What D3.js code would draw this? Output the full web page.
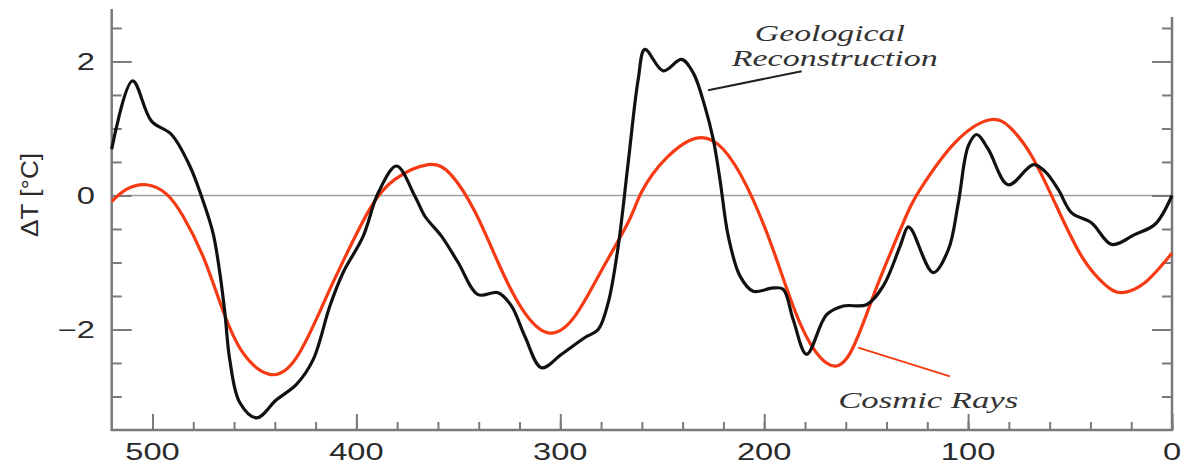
<!DOCTYPE html>
<html>
<head>
<meta charset="utf-8">
<script src="https://cdn.jsdelivr.net/npm/d3@7"></script>
<style>
  body { margin: 0; background: #fff; }
  svg { display: block; }
</style>
</head>
<body>
<div id="chart"></div>
<script>
// Geological reconstruction (age in Myr, deltaT)
var geoAge  = [520, 509.8, 500.5, 490.7, 481.7, 476, 470.3, 467, 464.5, 462.1, 457.2, 449, 439.2, 429.4, 421.2, 413, 406.5, 396.7, 389.3, 380.3, 371.3, 366.4, 358.2, 350.1, 340.3, 330.5, 323.9, 317.4, 309.2, 299.4, 287.9, 281.4, 276.5, 271.6, 266.7, 261.8, 258.5, 249.5, 240.5, 234.8, 229.1, 225, 221.7, 217.6, 211.9, 205.4, 195.6, 190.7, 185.8, 179.2, 169.4, 161.2, 149.8, 141.6, 133.4, 129.5, 127.7, 117.1, 109.7, 104.8, 99.9, 95.8, 90.1, 80.3, 68, 62.3, 55.8, 49.2, 39.4, 29.6, 18.1, 8.3, 0];
var geoTemp = [0.69, 1.71, 1.11, 0.91, 0.44, -0.01, -0.56, -1.15, -1.75, -2.45, -3.09, -3.32, -3.05, -2.82, -2.45, -1.65, -1.15, -0.61, 0.04, 0.44, -0.01, -0.31, -0.61, -1.0, -1.48, -1.45, -1.65, -2.1, -2.57, -2.37, -2.12, -2.0, -1.6, -0.76, 0.49, 1.73, 2.18, 1.86, 2.03, 1.83, 1.33, 0.84, 0.24, -0.61, -1.2, -1.43, -1.38, -1.4, -1.85, -2.37, -1.78, -1.65, -1.63, -1.35, -0.76, -0.47, -0.51, -1.15, -0.81, -0.11, 0.74, 0.91, 0.69, 0.16, 0.46, 0.36, 0.09, -0.26, -0.41, -0.73, -0.58, -0.43, 0.0];

// Cosmic ray based reconstruction
var crAge  = [520, 512.8, 502.9, 493.1, 485, 475.2, 465.4, 455.6, 442.5, 429.4, 416.3, 406.5, 393.4, 381.1, 364.8, 353.3, 341.9, 330.5, 319, 305.9, 292.8, 279.8, 266.7, 260, 247.9, 232.4, 220.1, 208.6, 195.6, 182.5, 169.4, 158, 146.5, 136.7, 128.5, 121.2, 106.4, 89.3, 78.6, 68.8, 57.4, 44.3, 32.9, 24.7, 13.2, 0];
var crTemp = [-0.09, 0.09, 0.16, 0.02, -0.31, -0.91, -1.72, -2.35, -2.67, -2.42, -1.62, -0.98, -0.2, 0.24, 0.46, 0.3, -0.24, -1.0, -1.68, -2.05, -1.8, -1.12, -0.4, 0.06, 0.56, 0.86, 0.69, 0.14, -0.81, -1.9, -2.5, -2.36, -1.5, -0.76, -0.18, 0.2, 0.79, 1.13, 0.99, 0.59, -0.11, -0.91, -1.33, -1.45, -1.3, -0.86];

var xMajorTicks = [500, 400, 300, 200, 100, 0];
var xMinorTicks = d3.range(0, 520, 20);
var yMajorTicks = [-2, 0, 2];
var yMinorTicks = [-3, -2.5, -1.5, -1, -0.5, 0.5, 1, 1.5, 2.5];
var yTickLabels = ["\u22122", "0", "2"];

var width = 1188;
var height = 468;
var axisColor = "#7a7a7a";

var svg = d3.select("#chart")
    .append("svg")
    .attr("width", width)
    .attr("height", height);

var x = d3.scaleLinear().domain([520, 0]).range([111.7, 1172]);
var y = d3.scaleLinear().domain([-3.5, 2.78]).range([430, 9.2]);

// zero line
svg.append("line")
    .attr("x1", x(520)).attr("x2", x(0))
    .attr("y1", y(0)).attr("y2", y(0))
    .attr("stroke", "#a0a0a0")
    .attr("stroke-width", 1.5);

// left axis ticks (pointing in)
svg.append("g")
    .attr("transform", "translate(" + x(520) + ",0)")
    .call(d3.axisRight(y).tickValues(yMajorTicks).tickSize(20).tickSizeOuter(0).tickFormat(""));
svg.append("g")
    .attr("transform", "translate(" + x(520) + ",0)")
    .call(d3.axisRight(y).tickValues(yMinorTicks).tickSize(10).tickSizeOuter(0).tickFormat(""));

// right axis ticks (pointing in)
svg.append("g")
    .attr("transform", "translate(" + x(0) + ",0)")
    .call(d3.axisLeft(y).tickValues(yMajorTicks).tickSize(20).tickSizeOuter(0).tickFormat(""));
svg.append("g")
    .attr("transform", "translate(" + x(0) + ",0)")
    .call(d3.axisLeft(y).tickValues(yMinorTicks).tickSize(10).tickSizeOuter(0).tickFormat(""));

// bottom axis ticks (pointing up)
svg.append("g")
    .attr("transform", "translate(0," + y(-3.5) + ")")
    .call(d3.axisTop(x).tickValues(xMajorTicks).tickSize(16).tickSizeOuter(0).tickFormat(""));
svg.append("g")
    .attr("transform", "translate(0," + y(-3.5) + ")")
    .call(d3.axisTop(x).tickValues(xMinorTicks).tickSize(8).tickSizeOuter(0).tickFormat(""));

svg.selectAll("g path.domain").remove();
svg.selectAll("g g.tick line")
    .attr("stroke", axisColor)
    .attr("stroke-width", 2);

// axis frame lines
svg.append("line")
    .attr("x1", x(520)).attr("x2", x(520))
    .attr("y1", 9).attr("y2", y(-3.5) + 1)
    .attr("stroke", axisColor).attr("stroke-width", 2.5);
svg.append("line")
    .attr("x1", x(0)).attr("x2", x(0))
    .attr("y1", 17).attr("y2", y(-3.5) + 1)
    .attr("stroke", axisColor).attr("stroke-width", 2.5);
svg.append("line")
    .attr("x1", x(520) - 1).attr("x2", x(0) + 1)
    .attr("y1", y(-3.5)).attr("y2", y(-3.5))
    .attr("stroke", axisColor).attr("stroke-width", 2.5);

// tick labels (the original is stretched horizontally)
svg.selectAll(".xlabel")
    .data(xMajorTicks)
    .enter()
    .append("g")
    .attr("transform", function(d) { return "translate(" + x(d) + ",460)"; })
    .append("text")
    .attr("text-anchor", "middle")
    .attr("transform", "scale(1.42,1)")
    .attr("fill", "#2a2a2a")
    .style("font-family", "'Liberation Sans', Arial, sans-serif")
    .style("font-size", "23px")
    .text(function(d) { return d; });

svg.selectAll(".ylabel")
    .data(yMajorTicks)
    .enter()
    .append("g")
    .attr("transform", function(d) { return "translate(95," + y(d) + ")"; })
    .append("text")
    .attr("text-anchor", "end")
    .attr("dy", "0.37em")
    .attr("transform", "scale(1.42,1)")
    .attr("fill", "#2a2a2a")
    .style("font-family", "'Liberation Sans', Arial, sans-serif")
    .style("font-size", "23px")
    .text(function(d, i) { return yTickLabels[i]; });

svg.append("text")
    .attr("transform", "translate(38,195) rotate(-90)")
    .attr("text-anchor", "middle")
    .attr("fill", "#2a2a2a")
    .attr("textLength", 84)
    .attr("lengthAdjust", "spacingAndGlyphs")
    .style("font-family", "'Liberation Sans', Arial, sans-serif")
    .style("font-size", "23px")
    .text("\u0394T [\u00B0C]");

// curves
var geoLine = d3.line()
    .x(function(d) { return x(d[0]); })
    .y(function(d) { return y(d[1]); })
    .curve(d3.curveCatmullRom.alpha(0.5));

var crLine = d3.line()
    .x(function(d) { return x(d[0]); })
    .y(function(d) { return y(d[1]); })
    .curve(d3.curveNatural);

var crData = crAge.map(function(a, i) { return [a, crTemp[i]]; });
var geoData = geoAge.map(function(a, i) { return [a, geoTemp[i]]; });

svg.append("path")
    .datum(crData)
    .attr("d", crLine)
    .attr("fill", "none")
    .attr("stroke", "#f53a14")
    .attr("stroke-width", 3.2);

svg.append("path")
    .datum(geoData)
    .attr("d", geoLine)
    .attr("fill", "none")
    .attr("stroke", "#111")
    .attr("stroke-width", 3.2);

// annotations
svg.append("line")
    .attr("x1", x(227.5)).attr("y1", y(1.57))
    .attr("x2", x(181.6)).attr("y2", y(1.855))
    .attr("stroke", "#222").attr("stroke-width", 2);
svg.append("line")
    .attr("x1", x(153.9)).attr("y1", y(-2.27))
    .attr("x2", x(108.9)).attr("y2", y(-2.70))
    .attr("stroke", "#f53a14").attr("stroke-width", 2);

var serif = "'Liberation Serif', 'Times New Roman', serif";
svg.append("text")
    .attr("x", x(167.8)).attr("y", y(2.30))
    .attr("text-anchor", "middle")
    .attr("textLength", 150).attr("lengthAdjust", "spacingAndGlyphs")
    .attr("fill", "#333")
    .style("font-family", serif).style("font-style", "italic").style("font-size", "24px")
    .text("Geological");
svg.append("text")
    .attr("x", x(165.4)).attr("y", y(1.93))
    .attr("text-anchor", "middle")
    .attr("textLength", 206).attr("lengthAdjust", "spacingAndGlyphs")
    .attr("fill", "#333")
    .style("font-family", serif).style("font-style", "italic").style("font-size", "24px")
    .text("Reconstruction");
svg.append("text")
    .attr("x", x(163.7)).attr("y", y(-3.17))
    .attr("textLength", 180).attr("lengthAdjust", "spacingAndGlyphs")
    .attr("fill", "#333")
    .style("font-family", serif).style("font-style", "italic").style("font-size", "24px")
    .text("Cosmic Rays");
</script>
</body>
</html>
